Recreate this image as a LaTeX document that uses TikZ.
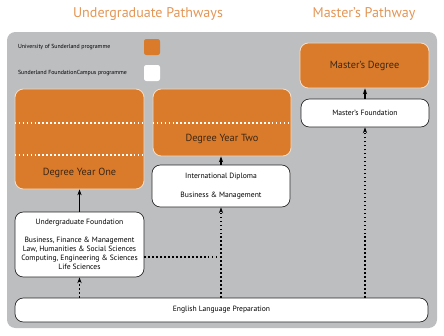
\documentclass[tikz,border=0pt]{standalone}
\usepackage{fontspec}
\setmainfont{PT Sans}
\usetikzlibrary{positioning, arrows.meta, calc}
\definecolor{usorange}{HTML}{D97B2A}
\definecolor{titleorange}{HTML}{E39656}
\definecolor{panelgrey}{HTML}{BDBEC0}
\definecolor{boxtext}{HTML}{3B2616}
\tikzset{
  usbox/.style={rectangle, rounded corners=0.25cm, draw=usorange!25!white, line width=0.7pt, fill=usorange, text=boxtext, font=\fontsize{8.8}{10}\selectfont},
  fcbox/.style={rectangle, rounded corners=0.25cm, draw=black!85, line width=0.6pt, fill=white, align=center, font=\fontsize{6.5}{7.6}\selectfont},
  boxlabel/.style={text=boxtext, font=\fontsize{8.8}{10}\selectfont},
  legend/.style={anchor=west, font=\fontsize{5}{6}\selectfont},
  keybox/.style={rectangle, rounded corners=2pt, minimum size=0.48cm},
  arrow/.style={line width=1.1pt,->,>={Stealth[length=5pt,width=3.6pt]}},
  dotline/.style={line width=1.3pt, dash pattern=on 1.2pt off 2.2pt},
  dotarrow/.style={dotline,->,>={Stealth[length=5pt,width=3.6pt]}},
  sepline/.style={white, line width=1.3pt, dash pattern=on 1.2pt off 2.2pt}
}
\begin{document}
\begin{tikzpicture}[x=0.03cm, y=-0.03cm]
    % Marco de la figura (444 x 336 px)
    \useasboundingbox (0,0) rectangle (444,336);

    % Titulos de las dos columnas
    \node[text=titleorange, font=\fontsize{12}{14}\selectfont] (ugtitle) at (148,14) {Undergraduate Pathways};
    \node[text=titleorange, font=\fontsize{12}{14}\selectfont] (mtitle) at (364,14) {Master's Pathway};

    % Panel gris de fondo
    \fill[panelgrey, rounded corners=0.25cm] (7,32) rectangle (437,328);

    % Leyenda
    \node[legend] (legus) at (14,47) {University of Sunderland programme};
    \node[keybox, fill=usorange] (keyus) at (152,47) {};
    \node[legend] (legfc) at (14,73) {Sunderland FoundationCampus programme};
    \node[keybox, fill=white] (keyfc) at (152,73) {};

    % Programas de la universidad (naranja)
    \node[usbox, minimum width=3.87cm, minimum height=1.35cm] (md) at (364.5,65.5) {Master's Degree};
    \node[usbox, minimum width=3.87cm, minimum height=3.0cm] (dy1) at (79.5,139) {};
    \node[boxlabel] (dy1text) at (79.5,173) {Degree Year One};
    \node[usbox, minimum width=4.14cm, minimum height=2.01cm] (dy2) at (222,122.5) {};
    \node[boxlabel] (dy2text) at (222,139) {Degree Year Two};

    % Lineas de puntos blancas dentro de los grados
    \draw[sepline] (dy1.west |- 0,123) -- (dy1.east |- 0,123);
    \draw[sepline] (dy1.west |- 0,155) -- (dy1.east |- 0,155);
    \draw[sepline] (dy2.west |- 0,123) -- (dy2.east |- 0,123);

    % Programas de FoundationCampus (blanco)
    \node[fcbox, minimum width=3.84cm, minimum height=0.84cm] (mf) at (365,113) {Master's Foundation};
    \node[fcbox, minimum width=4.14cm, minimum height=1.26cm] (id) at (221,186) {International Diploma\\[8pt]Business \& Management};
    \node[fcbox, minimum width=3.87cm, minimum height=1.95cm] (uf) at (79.5,244.5) {Undergraduate Foundation\\[7.6pt]Business, Finance \& Management\\Law, Humanities \& Social Sciences\\Computing, Engineering \& Sciences\\Life Sciences};
    \node[fcbox, minimum width=12.39cm, minimum height=0.72cm] (elp) at (221.5,310) {English Language Preparation};

    % Progresion directa
    \draw[arrow] (uf.north) -- (dy1.south);
    \draw[arrow] (id.north) -- (id.north |- dy2.south);
    \draw[arrow] (mf.north) -- (mf.north |- md.south);

    % Entradas desde el ingles (punteadas)
    \draw[dotarrow] (elp.north -| uf.south) -- (uf.south);
    \draw[dotarrow] (elp.north -| id.south) -- (id.south);
    \draw[dotarrow] (elp.north -| mf.south) -- (mf.south);
    \coordinate (ufout) at (uf.east |- 0,257);
    \draw[dotline] (ufout) -- (ufout -| id.south);
\end{tikzpicture}
\end{document}
